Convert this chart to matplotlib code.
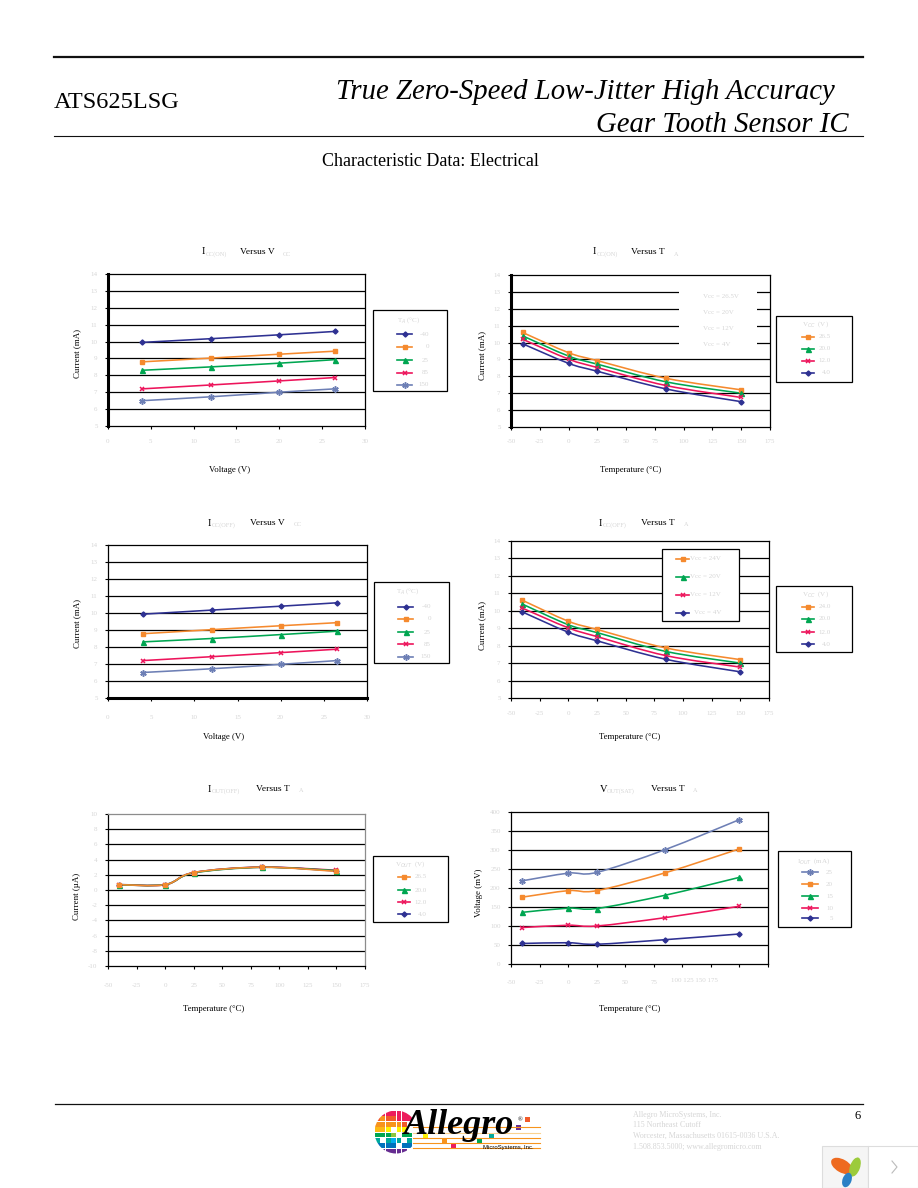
#Characteristic data page, ATS625LSG
import numpy as np
import matplotlib
matplotlib.use('Agg')
import matplotlib.pyplot as plt
from matplotlib.path import Path
from matplotlib.patches import PathPatch, Rectangle, Circle, Ellipse

W, H = 918, 1188
SERIF = 'Liberation Serif'
GREY = '#d6d6d6'
NAVY, ORANGE, GREEN, RED, SLATE = '#2e3192', '#f58a2e', '#00a651', '#ed145b', '#6d7fb5'

#Data
volts = [4, 12, 20, 26.5]
temps = [-40, 0, 25, 85, 150]

#Icc(on) vs Vcc, one list per temperature
icc_on_v_m40 = [9.95, 10.17, 10.4, 10.6]
icc_on_v_0 = [8.8, 9.02, 9.25, 9.43]
icc_on_v_25 = [8.3, 8.5, 8.72, 8.93]
icc_on_v_85 = [7.2, 7.43, 7.67, 7.87]
icc_on_v_150 = [6.5, 6.73, 7.0, 7.2]

#Icc(off) vs Vcc
icc_off_v_m40 = [9.93, 10.17, 10.4, 10.6]
icc_off_v_0 = [8.78, 9.02, 9.25, 9.43]
icc_off_v_25 = [8.3, 8.5, 8.73, 8.93]
icc_off_v_85 = [7.2, 7.43, 7.67, 7.87]
icc_off_v_150 = [6.5, 6.72, 6.98, 7.2]

#Icc(on) vs temperature
icc_on_t_265 = [10.6, 9.4, 8.93, 7.88, 7.2]
icc_on_t_20 = [10.4, 9.2, 8.72, 7.67, 7.0]
icc_on_t_12 = [10.2, 9.02, 8.52, 7.45, 6.75]
icc_on_t_4 = [9.93, 8.77, 8.3, 7.25, 6.5]

#Icc(off) vs temperature
icc_off_t_24 = [10.6, 9.4, 8.93, 7.87, 7.2]
icc_off_t_20 = [10.38, 9.2, 8.75, 7.67, 7.0]
icc_off_t_12 = [10.15, 9.02, 8.52, 7.43, 6.77]
icc_off_t_4 = [9.93, 8.77, 8.28, 7.22, 6.5]

#Iout(off) vs temperature
iout_t_265 = [0.7, 0.7, 2.3, 3.0, 2.45]
iout_t_20 = [0.68, 0.7, 2.25, 2.98, 2.55]
iout_t_12 = [0.7, 0.68, 2.28, 3.0, 2.6]
iout_t_4 = [0.72, 0.72, 2.3, 3.02, 2.5]

#Vout(sat) vs temperature, one list per load current
vsat_25 = [219, 239, 241, 301, 380]
vsat_20 = [176, 193, 193, 240, 303]
vsat_15 = [136, 147, 146, 181, 228]
vsat_10 = [96, 102, 100, 122, 152]
vsat_5 = [54, 56, 52, 64, 79]

volt_ticks = [0, 5, 10, 15, 20, 25, 30]
temp_ticks = [-50, -25, 0, 25, 50, 75, 100, 125, 150, 175]
icc_ticks = list(range(5, 15))
iout_ticks = list(range(-10, 12, 2))
vsat_ticks = list(range(0, 450, 50))

t_labels = ['-40', '0', '25', '85', '150']
v265_labels = ['26.5', '20.0', '12.0', '4.0']
v24_labels = ['24.0', '20.0', '12.0', '4.0']
iout_labels = ['25', '20', '15', '10', '5']

address = ['Allegro MicroSystems, Inc.', '115 Northeast Cutoff',
           'Worcester, Massachusetts 01615-0036 U.S.A.',
           '1.508.853.5000; www.allegromicro.com']

STY = {NAVY: dict(marker='D', ms=2.6), ORANGE: dict(marker='s', ms=2.6),
       GREEN: dict(marker='^', ms=3.6), RED: dict(marker='x', ms=3.4, mew=1.1),
       SLATE: dict(marker=(6, 2, 0), ms=4.6, mew=1.1)}

fig = plt.figure(figsize=(W / 100, H / 100), dpi=100, facecolor='white')

#page axes in pixels, y going down, sits on top of the charts
page = fig.add_axes([0, 0, 1, 1], zorder=5)
page.set_xlim(0, W)
page.set_ylim(H, 0)
page.axis('off')
page.patch.set_alpha(0)


def ptext(x, y, s, size=6.5, color='black', ha='left', **kw):
    page.text(x, y, s, fontsize=size, color=color, ha=ha, va='center', family=SERIF, **kw)


def smooth(ax, x, y, color):
    #excel style smoothed line, catmull-rom through the points
    x = np.array(x, float)
    y = np.array(y, float)
    verts = [(x[0], y[0])]
    codes = [Path.MOVETO]
    for i in range(len(x) - 1):
        a = max(i - 1, 0)
        b = min(i + 2, len(x) - 1)
        verts.append((x[i] + (x[i + 1] - x[a]) / 6, y[i] + (y[i + 1] - y[a]) / 6))
        verts.append((x[i + 1] - (x[b] - x[i]) / 6, y[i + 1] - (y[b] - y[i]) / 6))
        verts.append((x[i + 1], y[i + 1]))
        codes += [Path.CURVE4] * 3
    ax.add_patch(PathPatch(Path(verts, codes), fc='none', ec=color, lw=1.15, zorder=3))
    ax.plot(x, y, ls='none', color=color, mec=color, zorder=4, clip_on=False, **STY[color])


def chart(box, xvals, series, colors, xticks, yticks, xlabel, ylabel, xl_pos, yl_pos, pad,
          thick=None, edge='black', xticklabels=None):
    l, t, r, b = box
    ax = fig.add_axes([l / W, 1 - b / H, (r - l) / W, (b - t) / H])
    ax.set_xlim(xticks[0], xticks[-1])
    ax.set_ylim(yticks[0], yticks[-1])
    ax.set_xticks(xticks)
    ax.set_yticks(yticks)
    ax.set_xticklabels(xticklabels if xticklabels else [str(v) for v in xticks])
    ax.set_yticklabels([str(v) for v in yticks])
    ax.tick_params(length=2.5, width=0.8, labelsize=5, labelcolor=GREY)
    ax.tick_params(axis='x', pad=pad)
    ax.tick_params(axis='y', pad=5)
    for lab in ax.get_xticklabels() + ax.get_yticklabels():
        lab.set_family(SERIF)
    for v in yticks[1:-1]:
        ax.axhline(v, color='black', lw=0.9, zorder=1)
    for s in ax.spines.values():
        s.set_linewidth(0.9)
    for s in ['top', 'right']:
        ax.spines[s].set_color(edge)
    if thick:
        ax.spines[thick].set_linewidth(2.2)
    for vals, c in zip(series, colors):
        smooth(ax, xvals, vals, c)
    ax.set_xlabel(xlabel, fontsize=6.3, family=SERIF)
    ax.set_ylabel(ylabel, fontsize=6.4, family=SERIF)
    ax.xaxis.set_label_coords(xl_pos[0], xl_pos[1], transform=page.transData)
    ax.yaxis.set_label_coords(yl_pos[0], yl_pos[1], transform=page.transData)
    return ax


def title(y, first, sub, x0, x1, versus, x2, sub2, x3):
    ptext(x0, y, first, size=7.5)
    ptext(x1, y + 2, sub, size=4.5, color=GREY)
    ptext(x2, y, versus, size=6.8)
    ptext(x3, y + 2, sub2, size=4.5, color=GREY)


def key(box, head, head_x, head_y, rows, labels, colors, lx0, lx1, tx):
    x0, y0, x1, y1 = box
    page.add_patch(Rectangle((x0, y0), x1 - x0, y1 - y0, fc='white', ec='black', lw=0.9))
    if head:
        ptext(head_x, head_y, head, size=5, color=GREY, ha='center')
    for y, lab, c in zip(rows, labels, colors):
        page.plot([lx0, lx1], [y, y], color=c, lw=1.2)
        page.plot([(lx0 + lx1) / 2], [y], ls='none', color=c, mec=c, **STY[c])
        ptext(tx, y, lab, size=5, color=GREY, ha='right')


temp_x = 'Temperature (\u00b0C)'
c5 = [NAVY, ORANGE, GREEN, RED, SLATE]
c4 = [ORANGE, GREEN, RED, NAVY]
c5b = [SLATE, ORANGE, GREEN, RED, NAVY]

#top left
chart((108, 274, 365, 426), volts, [icc_on_v_m40, icc_on_v_0, icc_on_v_25, icc_on_v_85, icc_on_v_150],
      c5, volt_ticks, icc_ticks, 'Voltage (V)', 'Current (mA)', (230, 466), (81, 353), 7, thick='left')
title(252, 'I', 'CC(ON)', 202, 206, 'Versus V', 240, 'CC', 283)
key((373, 310, 447, 391), 'T$_{A}$ (\u00b0C)', 409, 320, [334, 347, 360, 373, 385], t_labels, c5, 397, 412, 429)

#top right
chart((511, 275, 770, 427), temps, [icc_on_t_265, icc_on_t_20, icc_on_t_12, icc_on_t_4],
      c4, temp_ticks, icc_ticks, temp_x, 'Current (mA)', (631, 466), (486, 356), 6, thick='left')
title(252, 'I', 'CC(ON)', 593, 597, 'Versus T', 631, 'A', 674)
page.add_patch(Rectangle((679, 283), 78, 66, fc='white', ec='none'))
for y, s in zip([296, 312, 328, 344], ['Vcc = 26.5V', 'Vcc = 20V', 'Vcc = 12V', 'Vcc = 4V']):
    ptext(703, y, s, size=5, color=GREY)
key((776, 316, 852, 382), 'V$_{CC}$  (V)', 816, 324, [337, 349, 361, 373], v265_labels, c4, 802, 814, 831)

#middle left
chart((108, 545, 367, 698), volts, [icc_off_v_m40, icc_off_v_0, icc_off_v_25, icc_off_v_85, icc_off_v_150],
      c5, volt_ticks, icc_ticks, 'Voltage (V)', 'Current (mA)', (224, 733), (81, 623), 10, thick='bottom')
title(523, 'I', 'CC(OFF)', 208, 212, 'Versus V', 250, 'CC', 294)
key((374, 582, 449, 663), 'T$_{A}$ (\u00b0C)', 408, 591, [607, 619, 632, 644, 657], t_labels, c5, 398, 413, 431)

#middle right
chart((511, 541, 769, 698), temps, [icc_off_t_24, icc_off_t_20, icc_off_t_12, icc_off_t_4],
      c4, temp_ticks, icc_ticks, temp_x, 'Current (mA)', (630, 733), (486, 626), 7)
title(523, 'I', 'CC(OFF)', 599, 603, 'Versus T', 641, 'A', 684)
key((776, 586, 852, 652), 'V$_{CC}$  (V)', 816, 594, [607, 619, 632, 644], v24_labels, c4, 802, 814, 831)
#the second key inside the plot
key((662, 549, 739, 621), '', 700, 555, [559, 577, 595, 613],
    ['Vcc = 24V', 'Vcc = 20V', 'Vcc = 12V', 'Vcc = 4V'], c4, 676, 689, 721)

#bottom left
chart((108, 814, 365, 966), temps, [iout_t_4, iout_t_12, iout_t_20, iout_t_265],
      [NAVY, RED, GREEN, ORANGE], temp_ticks, iout_ticks, temp_x, 'Current (\u00b5A)', (214, 1005), (81, 896),
      10, edge='#8c8c8c')
title(789, 'I', 'OUT(OFF)', 208, 212, 'Versus T', 256, 'A', 299)
key((373, 856, 448, 922), 'V$_{OUT}$  (V)', 410, 864, [877, 890, 902, 914], v265_labels, c4, 398, 410, 427)

#bottom right, the last x labels are squeezed together in the original
sat_labels = ['-50', '-25', '0', '25', '50', '75', '', '', '', '']
chart((511, 812, 768, 964), temps, [vsat_25, vsat_20, vsat_15, vsat_10, vsat_5],
      c5b, temp_ticks, vsat_ticks, temp_x, 'Voltage (mV)', (630, 1005), (483, 893), 9, xticklabels=sat_labels)
ptext(694, 981, '100 125 150 175', size=5, color=GREY, ha='center')
title(789, 'V', 'OUT(SAT)', 600, 607, 'Versus T', 651, 'A', 693)
key((778, 851, 851, 927), 'I$_{OUT}$  (mA)', 814, 861, [872, 884, 896, 908, 918], iout_labels, c5b, 802, 818, 833)

#header
page.plot([54, 863], [57, 57], color='#111111', lw=1.6)
page.plot([54, 863], [136, 136], color='#111111', lw=0.8)
ptext(54, 103, 'ATS625LSG', size=17.5)
ptext(835, 92, 'True Zero-Speed Low-Jitter High Accuracy', size=20.7, ha='right', style='italic')
ptext(849, 125, 'Gear Tooth Sensor IC', size=20.7, ha='right', style='italic')
ptext(322, 162, 'Characteristic Data: Electrical', size=13)

#footer
page.plot([55, 863], [1104, 1104], color='#111111', lw=0.9)
ptext(861, 1116, '6', size=9, ha='right')
for y, s in zip([1115, 1125, 1136, 1147], address):
    ptext(633, y, s, size=5.8, color=GREY)

#logo, mosaic ball
ball_rows = [
    ['#ffffff', '#ec1c5b', '#ec1c5b', '#ec1c5b', '#ec1c5b', '#ec1c5b', '#ec1c5b', '#ffffff'],
    ['#f15a29', '#f7941d', '#f15a29', '#f15a29', '#ec1c5b', '#ec1c5b', '#ec1c5b', '#ffffff'],
    ['#f7941d', '#f7941d', '#f7941d', '#f7941d', '#f7941d', '#f15a29', '#ffffff', '#ffffff'],
    ['#fdb913', '#fdb913', '#fff200', '#ffffff', '#fff200', '#fff200', '#ffffff', '#ffffff'],
    ['#00a651', '#00a651', '#00a651', '#8dc63f', '#ffffff', '#00a651', '#00a651', '#ffffff'],
    ['#00a99d', '#ffffff', '#00a99d', '#00aeef', '#00a99d', '#ffffff', '#00a99d', '#ffffff'],
    ['#0072bc', '#0072bc', '#0072bc', '#0072bc', '#ffffff', '#0072bc', '#0072bc', '#ffffff'],
    ['#ffffff', '#662d91', '#662d91', '#662d91', '#662d91', '#662d91', '#ffffff', '#ffffff'],
]
ball = Circle((396, 1132), 21.5, transform=page.transData)
for j, row in enumerate(ball_rows):
    for i, c in enumerate(row):
        cell = Rectangle((375 + i * 5.4, 1111 + j * 5.4), 4.7, 4.7, fc=c, ec='none')
        page.add_patch(cell)
        cell.set_clip_path(ball)
for y, c in zip([1127, 1133, 1138, 1143, 1148], ['#f7941d', '#fbd28f', '#f7941d', '#f7941d', '#f7941d']):
    page.plot([413, 540], [y, y], color=c, lw=0.8)
for x, y, c in [(527, 1119, '#f15a29'), (518, 1127, '#662d91'), (444, 1141, '#f7941d'), (453, 1146, '#ec1c5b'),
                (479, 1141, '#00a651'), (491, 1135, '#00a99d'), (425, 1135, '#fff200')]:
    page.add_patch(Rectangle((x - 2.5, y - 2.5), 5, 5, fc=c, ec='none'))
ptext(404, 1125, 'Allegro', size=26, style='italic', weight='bold')
ptext(518, 1120, '\u00ae', size=4.5)
page.text(483, 1147, 'MicroSystems, Inc.', fontsize=4.3, family='Liberation Sans', va='center')

#viewer widget in the corner
page.add_patch(Rectangle((822, 1146), 46, 42, fc='#f5f5f5', ec='#dddddd', lw=0.8))
page.add_patch(Rectangle((868, 1146), 50, 42, fc='white', ec='#dddddd', lw=0.8))
page.add_patch(Ellipse((842, 1166), 24, 13, angle=30, fc='#ee6a1f', ec='none'))
page.add_patch(Ellipse((855, 1167), 20, 10, angle=-70, fc='#9ccb3b', ec='none'))
page.add_patch(Ellipse((847, 1180), 15, 9, angle=-70, fc='#2b80c5', ec='none'))
page.plot([892, 897, 892], [1161, 1167, 1173], color='#bbbbbb', lw=0.8)

fig.savefig('out.png', dpi=100)
